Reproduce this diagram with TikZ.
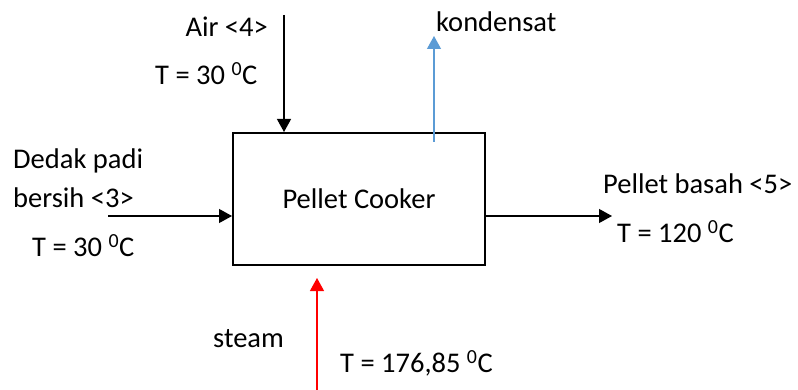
\documentclass[tikz,border=0pt]{standalone}
\usepackage{fontspec}
\setmainfont{Carlito}
\usetikzlibrary{arrows.meta}
\definecolor{kblue}{RGB}{91,155,213}
\tikzset{
  lbl/.style={inner sep=0pt, font=\fontsize{28.5}{34}\selectfont},
  flow/.style={line width=1.2pt, -{Triangle[length=13pt,width=14pt]}}
}
\begin{document}
\begin{tikzpicture}[x=1pt,y=-1pt]
\useasboundingbox (0,0) rectangle (798,390);
\node[draw, line width=2pt, minimum width=252pt, minimum height=132pt, inner sep=0pt, lbl] (cooker) at (359,199) {Pellet Cooker};
% Air
\coordinate (airS) at (284,15);
\draw[flow] (airS) -- (cooker.north -| airS);
\node[lbl, anchor=east] (airL) at (268,27) {Air <4>};
\node[lbl, anchor=west] (airT) at (155,74) {T = 30 \textsuperscript{0}C};
% kondensat
\coordinate (konS) at (434,142);
\coordinate (konE) at (434,36);
\draw[flow, kblue] (konS) -- (konE);
\node[lbl, anchor=west] (konL) at (436,22) {kondensat};
% Dedak
\coordinate (dedS) at (108,216);
\draw[flow] (dedS) -- (cooker.west |- dedS);
\node[lbl, anchor=west] (ded1) at (13,161) {Dedak padi};
\node[lbl, anchor=west] (ded2) at (13,198) {bersih <3>};
\node[lbl, anchor=west] (dedT) at (32,246) {T = 30 \textsuperscript{0}C};
% Output
\coordinate (outE) at (612,216);
\draw[flow] (cooker.east |- outE) -- (outE);
\node[lbl, anchor=west] (outL) at (603,184) {Pellet basah <5>};
\node[lbl, anchor=west] (outT) at (617,232) {T = 120 \textsuperscript{0}C};
% Steam
\coordinate (stS) at (317,390);
\coordinate (stE) at (317,278);
\draw[flow, red] (stS) -- (stE);
\node[lbl, anchor=west] (stL) at (213,339) {steam};
\node[lbl, anchor=west] (stT) at (340,363) {T = 176,85 \textsuperscript{0}C};
\end{tikzpicture}
\end{document}
